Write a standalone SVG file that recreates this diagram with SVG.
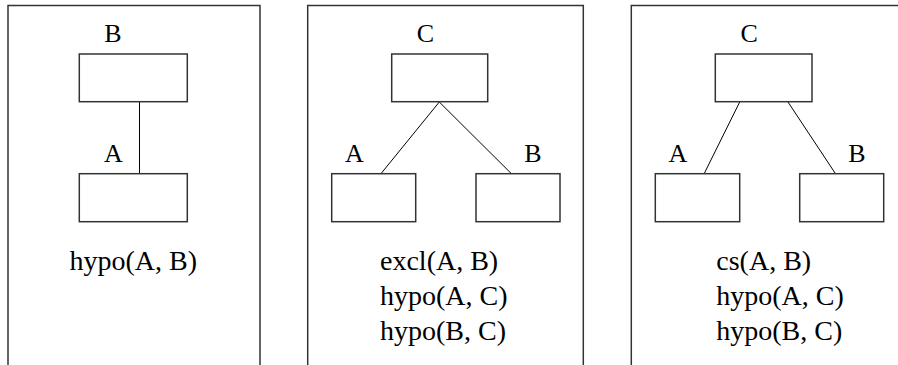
<svg xmlns="http://www.w3.org/2000/svg" width="898" height="365" viewBox="0 0 898 365">
<style>
.frame{fill:none;stroke:#333;stroke-width:1.5}
.box{fill:#fff;stroke:#333;stroke-width:1.5}
.edge{stroke:#000;stroke-width:1;fill:none}
.lbl{font-size:26px;fill:#000;text-anchor:middle}
.txt{font-size:28px;fill:#000}
</style>
<rect width="898" height="365" fill="#fff"/>
<g id="panels">
<path class="frame" d="M8,366 V5.5 H260 V366"/>
<path class="frame" d="M307.7,366 V5.5 H583.3 V366"/>
<path class="frame" d="M631.3,366 V5.5 H900"/>
</g>
<g id="connectors">
<line class="edge" x1="139.5" y1="102" x2="139.5" y2="174"/>
<line class="edge" x1="439.3" y1="102" x2="380.7" y2="174"/>
<line class="edge" x1="439.3" y1="102" x2="511.7" y2="174"/>
<line class="edge" x1="739.7" y1="102" x2="704" y2="174"/>
<line class="edge" x1="788" y1="102" x2="835.7" y2="174"/>
</g>
<g font-family="Liberation Serif, Times New Roman, serif">
<g id="p1-B"><rect class="box" x="79.3" y="54" width="108" height="47.7"/><text class="lbl" x="113" y="42">B</text></g>
<g id="p1-A"><rect class="box" x="79.3" y="173.7" width="108" height="48"/><text class="lbl" x="113.5" y="162">A</text></g>
<g id="p1-text"><text class="txt" x="133.3" y="270" text-anchor="middle">hypo(A, B)</text></g>
<g id="p2-C"><rect class="box" x="391.7" y="54" width="96" height="47.7"/><text class="lbl" x="425.5" y="42">C</text></g>
<g id="p2-A"><rect class="box" x="331.7" y="173.7" width="84" height="48"/><text class="lbl" x="354.3" y="162">A</text></g>
<g id="p2-B"><rect class="box" x="476" y="173.7" width="84" height="48"/><text class="lbl" x="533" y="162">B</text></g>
<g id="p2-text">
<text class="txt" x="380" y="270">excl(A, B)</text>
<text class="txt" x="380" y="305">hypo(A, C)</text>
<text class="txt" x="380" y="340">hypo(B, C)</text>
</g>
<g id="p3-C"><rect class="box" x="715.3" y="54" width="96.7" height="47.7"/><text class="lbl" x="749.2" y="42">C</text></g>
<g id="p3-A"><rect class="box" x="655.3" y="173.7" width="84.4" height="48"/><text class="lbl" x="678" y="162">A</text></g>
<g id="p3-B"><rect class="box" x="799.7" y="173.7" width="84" height="48"/><text class="lbl" x="857" y="162">B</text></g>
<g id="p3-text">
<text class="txt" x="716.3" y="270">cs(A, B)</text>
<text class="txt" x="716.3" y="305">hypo(A, C)</text>
<text class="txt" x="716.3" y="340">hypo(B, C)</text>
</g>
</g>
</svg>
